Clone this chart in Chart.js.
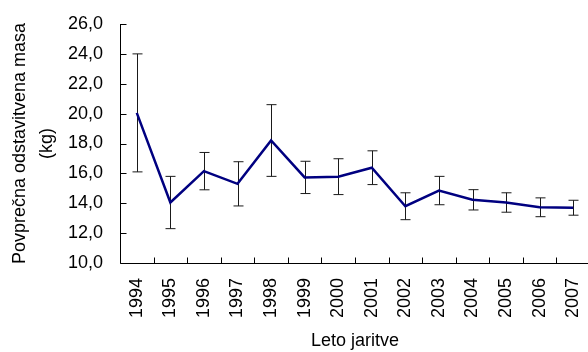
<!DOCTYPE html>
<html>
<head>
<meta charset="utf-8">
<script src="https://cdn.jsdelivr.net/npm/chart.js@4/dist/chart.umd.min.js"></script>
<style>
  html, body { margin: 0; padding: 0; background: #fff; overflow: hidden; }
  #wrap { position: relative; width: 590px; height: 352px; }
</style>
</head>
<body>
<div id="wrap"><canvas id="massChart"></canvas></div>
<script>
// Povprečna odstavitvena masa po letih (povprečje ± SD)
const years = ['1994', '1995', '1996', '1997', '1998', '1999', '2000',
               '2001', '2002', '2003', '2004', '2005', '2006', '2007'];
const meanMass = [20.05, 14.05, 16.15, 15.3, 18.2, 15.73, 15.78, 16.38, 13.8, 14.85, 14.23, 14.05, 13.73, 13.7];
const sdMass = [3.95, 1.75, 1.25, 1.48, 2.4, 1.08, 1.2, 1.13, 0.9, 0.95, 0.68, 0.65, 0.63, 0.5];
const yTicks = [10, 12, 14, 16, 18, 20, 22, 24, 26];

const FONT = 'Liberation Sans, Arial, sans-serif';

// Error bars (mean ± sd) drawn under the line
const errorBars = {
  id: 'errorBars',
  beforeDatasetsDraw(chart) {
    const { ctx, scales: { x, y } } = chart;
    ctx.save();
    ctx.strokeStyle = '#1a1a1a';
    ctx.lineWidth = 1;
    meanMass.forEach((m, i) => {
      const px = Math.round(x.getPixelForValue(i)) + 0.5;
      const top = y.getPixelForValue(m + sdMass[i]);
      const bot = y.getPixelForValue(m - sdMass[i]);
      ctx.beginPath();
      ctx.moveTo(px, top); ctx.lineTo(px, bot);
      ctx.moveTo(px - 5, top); ctx.lineTo(px + 5, top);
      ctx.moveTo(px - 5, bot); ctx.lineTo(px + 5, bot);
      ctx.stroke();
    });
    ctx.restore();
  }
};

// Axis lines with inward tick marks
const axes = {
  id: 'axes',
  beforeDatasetsDraw(chart) {
    const { ctx, chartArea: a, scales: { x, y } } = chart;
    const left = Math.round(a.left) + 0.5;
    const bottom = Math.round(a.bottom) + 0.5;
    ctx.save();
    ctx.strokeStyle = '#000';
    ctx.lineWidth = 1;
    ctx.beginPath();
    ctx.moveTo(left, a.top); ctx.lineTo(left, bottom); ctx.lineTo(a.right, bottom);
    yTicks.forEach(v => {
      const py = Math.round(y.getPixelForValue(v)) + 0.5;
      ctx.moveTo(left, py); ctx.lineTo(left + 6, py);
    });
    for (let i = 1; i < years.length; i++) {
      const px = Math.round((x.getPixelForValue(i - 1) + x.getPixelForValue(i)) / 2) + 0.5;
      ctx.moveTo(px, bottom); ctx.lineTo(px, bottom - 6);
    }
    ctx.stroke();
    ctx.restore();
  }
};

new Chart(document.getElementById('massChart'), {
  type: 'line',
  data: {
    labels: years,
    datasets: [{
      data: meanMass,
      borderColor: '#000080',
      borderWidth: 2.5,
      pointRadius: 0,
      tension: 0,
      fill: false
    }]
  },
  options: {
    responsive: true,
    maintainAspectRatio: false,
    animation: false,
    events: [],
    layout: { padding: { top: 24, right: 0, bottom: 0, left: 0 } },
    plugins: { legend: { display: false }, tooltip: { enabled: false } },
    scales: {
      x: {
        offset: true,
        grid: { display: false, drawTicks: false },
        border: { display: false },
        ticks: {
          color: '#000',
          font: { family: FONT, size: 18 },
          minRotation: 90,
          maxRotation: 90,
          padding: 15,
          autoSkip: false
        },
        title: {
          display: true,
          text: 'Leto jaritve',
          color: '#000',
          font: { family: FONT, size: 18 },
          padding: { top: 0, bottom: 0 }
        },
        afterFit(scale) {
          scale.height = 89;
          scale.paddingLeft = 0;
          scale.paddingRight = 0;
        }
      },
      y: {
        min: 10,
        max: 26,
        grid: { display: false, drawTicks: false },
        border: { display: false },
        afterBuildTicks(scale) { scale.ticks = yTicks.map(v => ({ value: v })); },
        ticks: {
          color: '#000',
          font: { family: FONT, size: 18 },
          padding: 17,
          callback: v => v.toFixed(1).replace('.', ',')
        },
        title: {
          display: true,
          text: ['Povprečna odstavitvena masa', '(kg)'],
          color: '#000',
          font: { family: FONT, size: 18, lineHeight: 1.5 },
          padding: { top: 7, bottom: 0 }
        },
        afterFit(scale) {
          scale.width = 120;
          scale.paddingTop = 0;
          scale.paddingBottom = 0;
        }
      }
    }
  },
  plugins: [errorBars, axes]
});
</script>
</body>
</html>
